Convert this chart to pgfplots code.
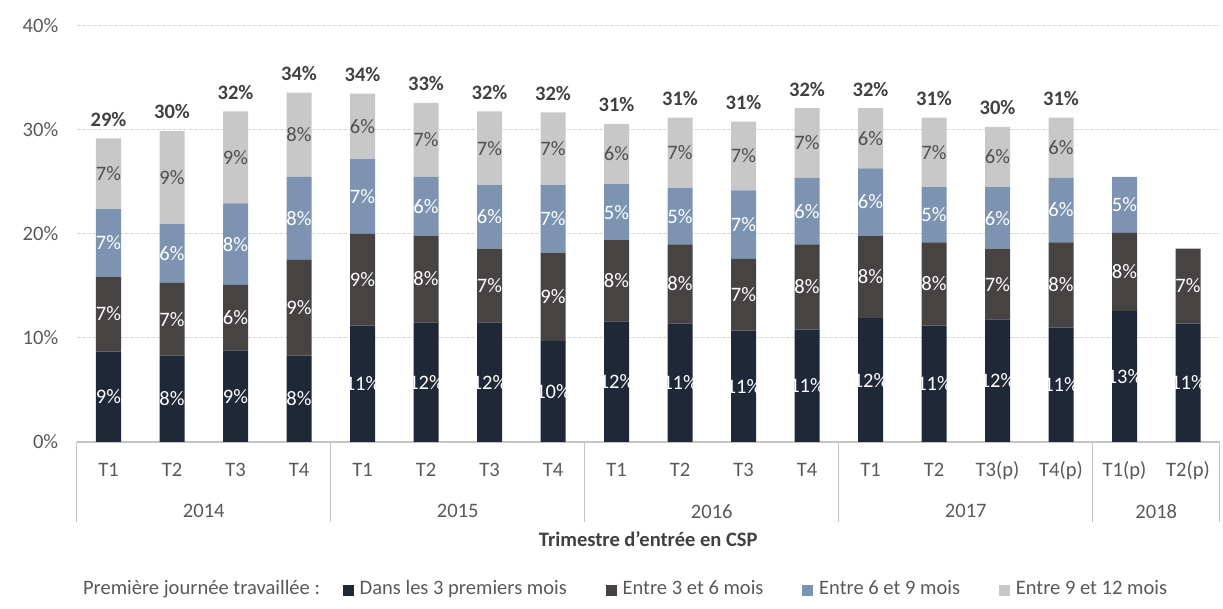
\documentclass[border=0pt]{standalone}
\usepackage{pgfplots}
\pgfplotsset{compat=1.18}
\usepackage{pgfplotstable}
\usepackage{fontspec}
\setmainfont{Carlito}
\definecolor{cA}{HTML}{1F2836}
\definecolor{cB}{HTML}{484343}
\definecolor{cC}{HTML}{7C94B2}
\definecolor{cD}{HTML}{C8C8C8}
\definecolor{txt}{HTML}{595959}
\definecolor{dtxt}{HTML}{404040}
\definecolor{ltxt}{HTML}{505050}
\definecolor{gridc}{HTML}{D9D9D9}
\definecolor{axc}{HTML}{C4C4C4}

\pgfplotstableread{
x a b c d
0 8.7 7.2 6.5 6.8
1 8.3 7.0 5.65 8.95
2 8.8 6.3 7.85 8.85
3 8.3 9.2 8.0 8.1
4 11.2 8.8 7.2 6.3
5 11.5 8.35 5.65 7.1
6 11.5 7.1 6.1 7.1
7 9.7 8.5 6.5 7.0
8 11.6 7.8 5.4 5.8
9 11.4 7.6 5.4 6.8
10 10.7 6.9 6.6 6.6
11 10.8 8.2 6.4 6.7
12 11.9 7.95 6.45 5.8
13 11.2 8.0 5.3 6.7
14 11.8 6.8 5.9 5.8
15 11.0 8.2 6.2 5.8
16 12.6 7.5 5.4 0
17 11.4 7.2 0 0
}\bars

\newcommand\fs{\fontsize{15.4}{18}\selectfont}

\begin{document}
\begin{tikzpicture}
\path[use as bounding box] (-57.5625pt,-125.25pt) rectangle (859.6875pt,331.5pt);
\pgfplotsset{
  base/.style={width=857.25pt, height=312pt, scale only axis, xmin=-0.5, xmax=17.5, ymin=0, ymax=40},
  sq/.style={legend image code/.code={\fill[##1] (0pt,-3.85pt) rectangle (8.25pt,4.6pt);}},
  lab/.style={draw=none, mark=none, nodes near coords, point meta=explicit symbolic,
    nodes near coords align=center,
    every node near coord/.append style={font=\fs, inner sep=0pt, anchor=center}},
}
\begin{axis}[base,
  ybar stacked, bar width=18.75pt,
  axis x line*=bottom, axis y line*=left,
  y axis line style={draw=none},
  x axis line style={axc, line width=1pt},
  major tick length=0pt,
  xtick={0,...,17},
  xticklabels={T1,T2,T3,T4,T1,T2,T3,T4,T1,T2,T3,T4,T1,T2,T3(p),T4(p),T1(p),T2(p)},
  ytick={0,10,20,30,40},
  yticklabels={0\%,10\%,20\%,30\%,40\%},
  tick label style={font=\fs, text=txt},
  xticklabel style={anchor=base, yshift=-26.25pt},
  yticklabel style={anchor=east, xshift=-10.4pt},
  ymajorgrids, grid style={gridc, line width=0.75pt, dash pattern=on 3pt off 1pt},
  xlabel={\textbf{Trimestre d'entrée en CSP}},
  xlabel style={at={(axis description cs:0.5,0)}, anchor=base, yshift=-78pt, font=\fs, text=dtxt},
  legend columns=-1,
  legend style={at={(axis description cs:0,-0.358)}, anchor=west, draw=none, fill=none,
    inner sep=0pt, font=\fs, text=txt,
    nodes={inner sep=0pt, text height=0.7em, text depth=0.2em},
    /tikz/every odd column/.append style={column sep=4.5pt},
    /tikz/every even column/.append style={column sep=29pt}},
]
\addlegendimage{empty legend}
\addlegendentry{Première journée travaillée :\hspace*{-12pt}}
\addplot[fill=cA, draw=none, sq] table[x=x,y=a]{\bars};
\addlegendentry{Dans les 3 premiers mois}
\addplot[fill=cB, draw=none, sq] table[x=x,y=b]{\bars};
\addlegendentry{Entre 3 et 6 mois}
\addplot[fill=cC, draw=none, sq] table[x=x,y=c]{\bars};
\addlegendentry{Entre 6 et 9 mois}
\addplot[fill=cD, draw=none, sq] table[x=x,y=d]{\bars};
\addlegendentry{Entre 9 et 12 mois}
\end{axis}

\begin{axis}[base, hide axis, clip=false]
% white labels in the three lower segments
\addplot[lab, every node near coord/.append style={text=white}] coordinates {
(0,4.35)[9\%] (0,12.3)[7\%] (0,19.15)[7\%]
(1,4.15)[8\%] (1,11.8)[7\%] (1,18.125)[6\%]
(2,4.4)[9\%] (2,11.95)[6\%] (2,19.025)[8\%]
(3,4.15)[8\%] (3,12.9)[9\%] (3,21.5)[8\%]
(4,5.6)[11\%] (4,15.6)[9\%] (4,23.6)[7\%]
(5,5.75)[12\%] (5,15.675)[8\%] (5,22.675)[6\%]
(6,5.75)[12\%] (6,15.05)[7\%] (6,21.65)[6\%]
(7,4.85)[10\%] (7,13.95)[9\%] (7,21.45)[7\%]
(8,5.8)[12\%] (8,15.5)[8\%] (8,22.1)[5\%]
(9,5.7)[11\%] (9,15.2)[8\%] (9,21.7)[5\%]
(10,5.35)[11\%] (10,14.15)[7\%] (10,20.9)[7\%]
(11,5.4)[11\%] (11,14.9)[8\%] (11,22.2)[6\%]
(12,5.95)[12\%] (12,15.875)[8\%] (12,23.075)[6\%]
(13,5.6)[11\%] (13,15.2)[8\%] (13,21.85)[5\%]
(14,5.9)[12\%] (14,15.1)[7\%] (14,21.45)[6\%]
(15,5.5)[11\%] (15,15.1)[8\%] (15,22.3)[6\%]
(16,6.3)[13\%] (16,16.35)[8\%] (16,22.8)[5\%]
(17,5.7)[11\%] (17,15.0)[7\%]
};
% labels in the light grey segment
\addplot[lab, every node near coord/.append style={text=ltxt}] coordinates {
(0,25.8)[7\%] (1,25.425)[9\%] (2,27.375)[9\%] (3,29.55)[8\%]
(4,30.35)[6\%] (5,29.05)[7\%] (6,28.25)[7\%] (7,28.2)[7\%]
(8,27.7)[6\%] (9,27.8)[7\%] (10,27.5)[7\%] (11,28.75)[7\%]
(12,29.2)[6\%] (13,27.85)[7\%] (14,27.4)[6\%] (15,28.3)[6\%]
};
% totals
\addplot[lab, every node near coord/.append style={text=dtxt, font=\fs\bfseries}] coordinates {
(0,31.03)[29\%] (1,31.73)[30\%] (2,33.63)[32\%] (3,35.43)[34\%]
(4,35.33)[34\%] (5,34.43)[33\%] (6,33.63)[32\%] (7,33.53)[32\%]
(8,32.43)[31\%] (9,33.03)[31\%] (10,32.63)[31\%] (11,33.93)[32\%]
(12,33.93)[32\%] (13,33.03)[31\%] (14,32.13)[30\%] (15,33.03)[31\%]
};
% year labels
\addplot[lab, every node near coord/.append style={text=txt}] coordinates {
(1.5,-6.65)[2014] (5.5,-6.65)[2015] (9.5,-6.65)[2016] (13.5,-6.65)[2017] (16.5,-6.65)[2018]
};
% group separators
\addplot[axc, line width=0.75pt, mark=none] coordinates {(-0.5,0) (-0.5,-7.69)};
\addplot[axc, line width=0.75pt, mark=none] coordinates {(3.5,0) (3.5,-7.69)};
\addplot[axc, line width=0.75pt, mark=none] coordinates {(7.5,0) (7.5,-7.69)};
\addplot[axc, line width=0.75pt, mark=none] coordinates {(11.5,0) (11.5,-7.69)};
\addplot[axc, line width=0.75pt, mark=none] coordinates {(15.5,0) (15.5,-7.69)};
\addplot[axc, line width=0.75pt, mark=none] coordinates {(17.5,0) (17.5,-7.69)};
\end{axis}
\end{tikzpicture}
\end{document}
